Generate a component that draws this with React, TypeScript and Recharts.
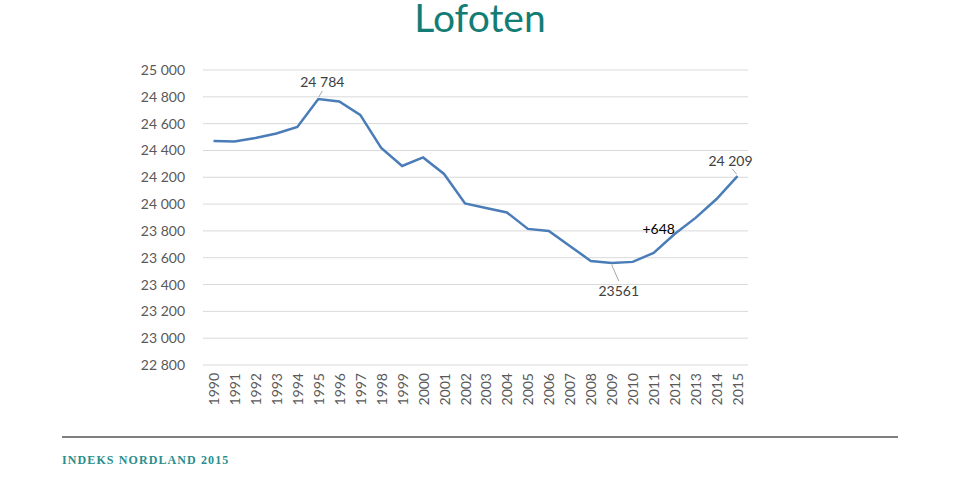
import React from 'react';
import { LineChart, Line, XAxis, YAxis, CartesianGrid, LabelList } from 'recharts';

const years = ['1990','1991','1992','1993','1994','1995','1996','1997','1998','1999','2000','2001','2002','2003','2004','2005','2006','2007','2008','2009','2010','2011','2012','2013','2014','2015'];
const population = [24471, 24467, 24493, 24527, 24575, 24784, 24765, 24665, 24418, 24284, 24348, 24225, 24005, 23971, 23938, 23815, 23800, 23688, 23576, 23561, 23569, 23636, 23777, 23897, 24038, 24209];
const yTicks = [22800, 23000, 23200, 23400, 23600, 23800, 24000, 24200, 24400, 24600, 24800, 25000];
const title = 'Lofoten';
const footer = 'INDEKS NORDLAND 2015';

const data = years.map((year, i) => ({ year, value: population[i] }));

const peakIndex = population.indexOf(Math.max(...population));
const minIndex = population.indexOf(Math.min(...population));
const lastIndex = population.length - 1;
const growth = population[lastIndex] - population[minIndex];

const fmt = (v: number) => {
  const s = String(v);
  return s.length > 3 ? s.slice(0, s.length - 3) + ' ' + s.slice(-3) : s;
};

const FONT = 'Lato, "Open Sans", sans-serif';

const XTick = (props: any) => {
  const { x, y, payload } = props;
  return (
    <text x={x} y={y} transform={`rotate(-90 ${x} ${y})`} textAnchor="end" dominantBaseline="central"
      fill="#595959" fontSize={14} fontFamily={FONT}>{payload.value}</text>
  );
};

const renderLabel = (props: any) => {
  const { x, y, index, value } = props;
  const textProps = { fontSize: 14, fontFamily: FONT, textAnchor: 'middle' as const, dominantBaseline: 'central' as const };
  if (index === peakIndex) {
    return (
      <g>
        <line x1={x + 0.5} y1={y - 2} x2={x + 4} y2={y - 8} stroke="#a6a6a6" strokeWidth={1} />
        <text x={x + 4} y={y - 17} fill="#404040" {...textProps}>{fmt(value)}</text>
      </g>
    );
  }
  if (index === lastIndex) {
    return (
      <g>
        <line x1={x - 1} y1={y - 2} x2={x - 5} y2={y - 7} stroke="#a6a6a6" strokeWidth={1} />
        <text x={x - 7} y={y - 16} fill="#404040" {...textProps}>{fmt(value)}</text>
      </g>
    );
  }
  if (index === minIndex) {
    return (
      <g>
        <line x1={x} y1={y + 2} x2={x + 7} y2={y + 18} stroke="#a6a6a6" strokeWidth={1} />
        <text x={x + 7} y={y + 28} fill="#404040" {...textProps}>{String(value)}</text>
      </g>
    );
  }
  if (index === minIndex + 2) {
    return (
      <text x={x + 5} y={y - 24} fill="#000000" {...textProps}>{'+' + growth}</text>
    );
  }
  return null;
};

export default function App() {
  return (
    <div style={{ position: 'absolute', left: 0, top: 0, width: 960, height: 483, background: '#ffffff', overflow: 'hidden' }}>
      <div style={{ position: 'absolute', left: 0, top: 0, width: 960, textAlign: 'center', fontFamily: FONT, fontSize: 39, color: '#137d75', lineHeight: '34px' }}>
        {title}
      </div>
      <div style={{ position: 'absolute', left: 0, top: 0 }}>
        <LineChart width={960} height={483} data={data} margin={{ top: 70, right: 212, bottom: 0, left: 143 }}>
          <CartesianGrid vertical={false} stroke="#d9d9d9" strokeWidth={1} />
          <XAxis dataKey="year" interval={0} tick={<XTick />} tickLine={false} axisLine={false}
            padding={{ left: 10.5, right: 10.5 }} height={118} />
          <YAxis domain={[22800, 25000]} ticks={yTicks} interval={0} tickLine={false} axisLine={false}
            tickFormatter={fmt} width={60} tickMargin={12}
            tick={{ fill: '#595959', fontSize: 14, fontFamily: FONT }} />
          <Line type="linear" dataKey="value" stroke="#4a7cb8" strokeWidth={2.5} dot={false} isAnimationActive={false}>
            <LabelList dataKey="value" content={renderLabel} />
          </Line>
        </LineChart>
      </div>
      <div style={{ position: 'absolute', left: 62, top: 436, width: 836, height: 2, background: '#7f7f7f' }} />
      <div style={{ position: 'absolute', left: 62, top: 452, fontFamily: '"Liberation Serif", "DejaVu Serif", serif', fontWeight: 'bold', fontSize: 12, letterSpacing: 1.1, color: '#2a8e8c', lineHeight: '16px' }}>
        {footer}
      </div>
    </div>
  );
}
